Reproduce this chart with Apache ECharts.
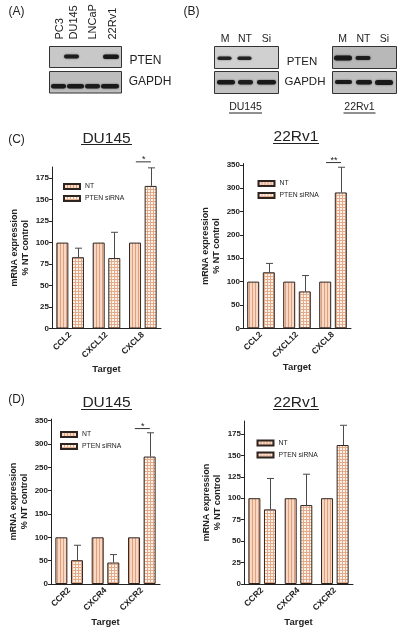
<!DOCTYPE html>
<html><head><meta charset="utf-8">
<script src="https://cdn.jsdelivr.net/npm/echarts@6/dist/echarts.min.js"></script>
<style>html,body{margin:0;padding:0;background:#fff}#c{width:400px;height:631px}</style>
</head><body><div id="c"></div>
<script>
// ---------- data ----------
const catsC = ['CCL2', 'CXCL12', 'CXCL8'];
const catsD = ['CCR2', 'CXCR4', 'CXCR2'];
const seriesNames = ['NT', 'PTEN siRNA'];
const panelTitles = ['DU145', '22Rv1', 'DU145', '22Rv1'];

const ntC1 = [100, 100, 100];
const siC1 = [83, 82, 166];
const errC1 = [10.5, 30, 21];
const ntC2 = [100, 100, 100];
const siC2 = [120, 79, 291];
const errC2 = [19, 34, 54];
const ntD1 = [100, 100, 100];
const siD1 = [51, 46, 273];
const errD1 = [32, 17, 51];
const ntD2 = [100, 100, 100];
const siD2 = [87, 92, 162];
const errD2 = [36, 36, 23];

const ticksC1 = [0, 25, 50, 75, 100, 125, 150, 175];
const ticksC2 = [0, 50, 100, 150, 200, 250, 300, 350];
const ticksD1 = [0, 50, 100, 150, 200, 250, 300, 350];
const ticksD2 = [0, 25, 50, 75, 100, 125, 150, 175];

const sigCatC1 = [2], sigYC1 = [194], sigTextC1 = ['*'];
const sigCatC2 = [2], sigYC2 = [355], sigTextC2 = ['**'];
const sigCatD1 = [2], sigYD1 = [333], sigTextD1 = ['*'];
const sigCatD2 = [], sigYD2 = [], sigTextD2 = [];

const laneA = ['PC3', 'DU145', 'LNCaP', '22Rv1'];
const laneB = ['M', 'NT', 'Si'];
const blotRows = ['PTEN', 'GAPDH'];
const blotBCells = ['DU145', '22Rv1'];
const panelLetters = ['(A)', '(B)', '(C)', '(D)'];

// ---------- styles ----------
const FONT = '"Liberation Sans", Arial, sans-serif';
const TXT = '#222';
function mkPattern(type) {
  const c = document.createElement('canvas');
  c.width = 3; c.height = 3;
  const g = c.getContext('2d');
  if (type === 'stripe') {
    g.fillStyle = '#f8d8c5'; g.fillRect(0, 0, 3, 3);
    g.fillStyle = '#e0a07c'; g.fillRect(0, 0, 1, 3);
  } else {
    g.fillStyle = '#fdf2ea'; g.fillRect(0, 0, 3, 3);
    g.fillStyle = '#e4ab8a'; g.fillRect(0, 0, 3, 1); g.fillRect(0, 0, 1, 3);
  }
  return { image: c, repeat: 'repeat' };
}
const ntPat = mkPattern('stripe');
const siPat = mkPattern('grid');
const OFF = 7.8;

const panels = [
  { cats: catsC, nt: ntC1, si: siC1, err: errC1, ticks: ticksC1, max: 188,
    grid: { left: 52, top: 167, width: 109, height: 161.5 }, legend: { left: 63, top: 183 },
    sigCat: sigCatC1, sigY: sigYC1, sigText: sigTextC1, nameGapX: 36 },
  { cats: catsC, nt: ntC2, si: siC2, err: errC2, ticks: ticksC2, max: 353,
    grid: { left: 243, top: 163.5, width: 108, height: 164.8 }, legend: { left: 257.5, top: 180 },
    sigCat: sigCatC2, sigY: sigYC2, sigText: sigTextC2, nameGapX: 34.5 },
  { cats: catsD, nt: ntD1, si: siD1, err: errD1, ticks: ticksD1, max: 353.5,
    grid: { left: 51, top: 419, width: 109, height: 165 }, legend: { left: 60, top: 431 },
    sigCat: sigCatD1, sigY: sigYD1, sigText: sigTextD1, nameGapX: 33.5 },
  { cats: catsD, nt: ntD2, si: siD2, err: errD2, ticks: ticksD2, max: 190,
    grid: { left: 244, top: 421, width: 109, height: 163 }, legend: { left: 256.5, top: 439.5 },
    sigCat: sigCatD2, sigY: sigYD2, sigText: sigTextD2, nameGapX: 33.5 }
];

const grid = [], xAxis = [], yAxis = [], series = [], legend = [];
panels.forEach((p, i) => {
  grid.push(Object.assign({ containLabel: false }, p.grid));
  xAxis.push({
    gridIndex: i, type: 'category', data: p.cats,
    axisLine: { lineStyle: { color: TXT, width: 1 } },
    axisTick: { alignWithLabel: true, length: 3, lineStyle: { color: TXT } },
    axisLabel: { rotate: 45, interval: 0, fontSize: 8.5, fontWeight: 'bold', color: TXT, fontFamily: FONT, margin: 5 },
    name: 'Target', nameLocation: 'middle', nameGap: p.nameGapX,
    nameTextStyle: { fontSize: 9.5, fontWeight: 'bold', color: TXT, fontFamily: FONT }
  });
  yAxis.push({
    gridIndex: i, type: 'value', min: 0, max: p.max, interval: p.ticks[1] - p.ticks[0],
    splitLine: { show: false },
    axisLine: { show: true, lineStyle: { color: TXT, width: 1 } },
    axisTick: { show: true, length: 3, lineStyle: { color: TXT }, customValues: p.ticks },
    axisLabel: { fontSize: 8, fontWeight: 'bold', color: TXT, fontFamily: FONT, margin: 3, customValues: p.ticks },
    name: 'mRNA expression\n% NT control', nameLocation: 'middle', nameGap: 20,
    nameTextStyle: { fontSize: 9, fontWeight: 'bold', color: TXT, fontFamily: FONT, lineHeight: 11.5 }
  });
  series.push({
    type: 'bar', name: seriesNames[0], xAxisIndex: i, yAxisIndex: i, data: p.nt,
    barWidth: 12, barGap: '30%', silent: true,
    itemStyle: { color: ntPat, borderColor: '#2e2420', borderWidth: 1 }
  });
  series.push({
    type: 'bar', name: seriesNames[1], xAxisIndex: i, yAxisIndex: i, data: p.si,
    barWidth: 12, barGap: '30%', silent: true,
    itemStyle: { color: siPat, borderColor: '#2e2420', borderWidth: 1 }
  });
  series.push({
    type: 'custom', xAxisIndex: i, yAxisIndex: i, clip: false, silent: true, z: 3,
    data: p.si.map((v, k) => [k, v, p.err[k]]),
    renderItem: (params, api) => {
      const b = api.coord([api.value(0), api.value(1)]);
      const t = api.coord([api.value(0), api.value(1) + api.value(2)]);
      const x = Math.round(b[0] + OFF) + 0.5;
      const st = { stroke: '#4a4a4a', lineWidth: 1 };
      return { type: 'group', children: [
        { type: 'line', shape: { x1: x, y1: b[1], x2: x, y2: t[1] }, style: st },
        { type: 'line', shape: { x1: x - 3.5, y1: t[1], x2: x + 3.5, y2: t[1] }, style: st }
      ] };
    }
  });
  series.push({
    type: 'custom', xAxisIndex: i, yAxisIndex: i, clip: false, silent: true, z: 3,
    data: p.sigCat.map((c, k) => [c, p.sigY[k]]),
    renderItem: (params, api) => {
      const pt = api.coord([api.value(0), api.value(1)]);
      return { type: 'group', children: [
        { type: 'line', shape: { x1: pt[0] - 7, y1: pt[1], x2: pt[0] + 8, y2: pt[1] }, style: { stroke: '#333', lineWidth: 1 } },
        { type: 'text', style: { text: p.sigText[params.dataIndex], x: pt[0] + 1, y: pt[1] + 2.5,
          textAlign: 'center', textVerticalAlign: 'bottom', fontSize: 9, fill: TXT, fontFamily: FONT } }
      ] };
    }
  });
  legend.push({
    left: p.legend.left, top: p.legend.top, orient: 'vertical', icon: 'rect',
    itemWidth: 16, itemHeight: 5, itemGap: 5, selectedMode: false, padding: 0,
    data: seriesNames, textStyle: { fontSize: 6.8, color: TXT, fontFamily: FONT }
  });
});

// ---------- graphics: blots, titles, labels ----------
const G = [];
function txt(x, y, s, size, opts) {
  G.push(Object.assign({ type: 'text', x: x, y: y, silent: true,
    style: Object.assign({ text: s, fontSize: size, fill: TXT, fontFamily: FONT,
      textAlign: 'center', textVerticalAlign: 'middle' }, (opts && opts.style) || {}) },
    (opts && opts.el) || {}));
}
function line(x1, y1, x2, y2) {
  G.push({ type: 'line', silent: true, shape: { x1, y1, x2, y2 }, style: { stroke: TXT, lineWidth: 1 } });
}
function box(x, y, w, h, fill) {
  G.push({ type: 'rect', silent: true, shape: { x, y, width: w, height: h },
    style: { fill: fill, stroke: '#333', lineWidth: 1 } });
}
function band(x, y, w, h, a) {
  G.push({ type: 'rect', silent: true, shape: { x, y, width: w, height: h, r: h / 2 },
    style: { fill: 'rgba(25,25,25,' + a + ')', shadowBlur: 2, shadowColor: 'rgba(0,0,0,0.55)' } });
}

// panel letters
txt(16.5, 12, panelLetters[0], 12);
txt(191.5, 12, panelLetters[1], 12);
txt(16.5, 140, panelLetters[2], 12);
txt(16.5, 400, panelLetters[3], 12);

// Blot A
box(49.5, 46.5, 72, 21, '#c8c8c8');
box(49.5, 71.5, 72, 21.5, '#bdbdbd');
band(64, 54.5, 15, 4, 0.95);
band(103, 54.5, 16, 4.5, 1);
band(51, 84, 15, 4.5, 1);
band(67, 84, 17, 4.5, 1);
band(85, 84, 15, 4.5, 0.95);
band(101, 84, 18, 4.5, 1);
const laneAx = [60, 74, 93, 112.5];
laneA.forEach((s, k) => txt(laneAx[k], 39.5, s, 11,
  { style: { textAlign: 'left' }, el: { rotation: Math.PI / 2 } }));
txt(145.5, 61, blotRows[0], 12);
txt(150, 82, blotRows[1], 12);

// Blot B
box(214.5, 46.5, 64, 22, '#d0d0d0');
box(214.5, 71.5, 64, 22, '#c3c3c3');
box(332.5, 46.5, 64, 22, '#b8b8b8');
box(332.5, 71.5, 64, 22, '#c0c0c0');
band(217.5, 56.5, 14, 3.5, 0.9);
band(237.5, 56.5, 14, 3.5, 0.9);
band(217, 80, 18, 4.5, 1);
band(238, 80, 15, 4.5, 0.95);
band(257, 80, 19, 4.5, 1);
band(334, 55.5, 18, 5, 1);
band(355.5, 56, 15, 4, 0.95);
band(335, 80, 17, 4, 1);
band(356, 80, 16, 4.5, 1);
band(375, 80, 18, 5, 1);
const laneBx1 = [225, 245, 266.5];
const laneBx2 = [342.5, 363.5, 384.5];
laneB.forEach((s, k) => { txt(laneBx1[k], 39.5, s, 10.5); txt(laneBx2[k], 39.5, s, 10.5); });
txt(302, 61.5, blotRows[0], 11.5);
txt(305, 82, blotRows[1], 11.5);
txt(245.5, 107.5, blotBCells[0], 10.5);
line(229, 113, 262, 113);
txt(359.5, 107.5, blotBCells[1], 10.5);
line(343.5, 113, 375.5, 113);

// chart titles
txt(106.5, 138.5, panelTitles[0], 15.5);
line(81, 144.5, 132, 144.5);
txt(296, 137, panelTitles[1], 15.5);
line(273, 143.5, 319, 143.5);
txt(106.5, 402.5, panelTitles[2], 15.5);
line(81, 409.5, 132, 409.5);
txt(296, 403, panelTitles[3], 15.5);
line(273, 409.5, 319, 409.5);

const chart = echarts.init(document.getElementById('c'), null, { renderer: 'canvas' });
chart.setOption({
  backgroundColor: '#fff',
  animation: false,
  textStyle: { fontFamily: FONT },
  grid, xAxis, yAxis, series, legend,
  graphic: { elements: G }
});
</script></body></html>
